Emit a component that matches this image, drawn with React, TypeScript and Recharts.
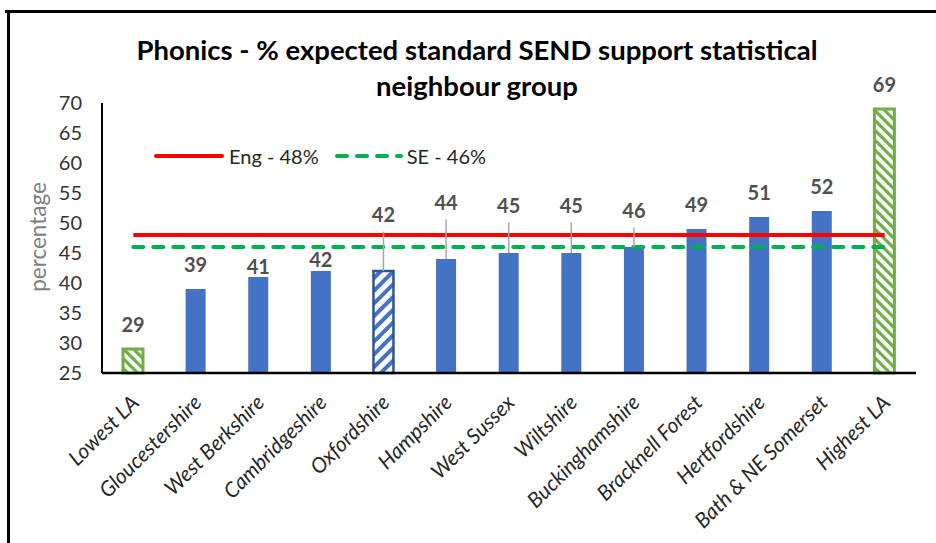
import React from 'react';
import {
  ComposedChart,
  Bar,
  Line,
  Cell,
  XAxis,
  YAxis,
  LabelList,
} from 'recharts';

const CATEGORIES = [
  'Lowest LA',
  'Gloucestershire',
  'West Berkshire',
  'Cambridgeshire',
  'Oxfordshire',
  'Hampshire',
  'West Sussex',
  'Wiltshire',
  'Buckinghamshire',
  'Bracknell Forest',
  'Hertfordshire',
  'Bath & NE Somerset',
  'Highest LA',
];
const VALUES = [29, 39, 41, 42, 42, 44, 45, 45, 46, 49, 51, 52, 69];
const ENGLAND = 48;
const SOUTH_EAST = 46;
const Y_TICKS = [25, 30, 35, 40, 45, 50, 55, 60, 65, 70];

// which bars get the hatched fills
const GREEN_HATCHED = ['Lowest LA', 'Highest LA'];
const BLUE_HATCHED = ['Oxfordshire'];

// labels that were moved by hand in the original (px, + is up); raised ones get a leader line
const LABEL_LIFT: Record<string, number> = {
  'West Berkshire': -14,
  Cambridgeshire: -13,
  Oxfordshire: 32,
  Hampshire: 32,
  'West Sussex': 23,
  Wiltshire: 23,
  Buckinghamshire: 12,
};

const data = CATEGORIES.map((name, i) => ({
  name,
  value: VALUES[i],
  eng: ENGLAND,
  se: SOUTH_EAST,
}));

const FONT = 'Lato, "Open Sans", sans-serif';

const renderLabel = (props: any) => {
  const { x, y, width, value, index } = props;
  const cx = Number(x) + Number(width) / 2;
  const lift = LABEL_LIFT[CATEGORIES[index]] ?? 0;
  const base = Number(y) - 17 - lift;
  return (
    <g>
      {lift > 0 && (
        <line x1={cx} x2={cx} y1={base + 9.5} y2={y} stroke="#a6a6a6" strokeWidth={1.5} />
      )}
      <text x={cx} y={base} textAnchor="middle" fontFamily={FONT} fontWeight={700} fontSize={20} fill="#505050">
        {value}
      </text>
    </g>
  );
};

const CategoryTick = (props: any) => {
  const { x, y, payload } = props;
  const tx = x + 7;
  const ty = y + 31;
  return (
    <text
      x={tx}
      y={ty}
      transform={`rotate(-45 ${tx} ${ty})`}
      textAnchor="end"
      fontFamily={FONT}
      fontStyle="italic"
      fontSize={21}
      fill="#262626"
    >
      {payload.value}
    </text>
  );
};

export default function App() {
  return (
    <div style={{ position: 'absolute', left: 0, top: 0, width: 936, height: 543, background: '#fff', overflow: 'hidden' }}>
      {/* frame edges */}
      <div style={{ position: 'absolute', left: 5, top: 10, width: 931, height: 0, borderTop: '3px solid #000' }} />
      <div style={{ position: 'absolute', left: 7, top: 10, width: 0, height: 533, borderLeft: '3px solid #000' }} />

      <div
        style={{
          position: 'absolute',
          left: 27,
          width: 900,
          top: 32,
          textAlign: 'center',
          fontFamily: FONT,
          fontWeight: 700,
          fontSize: 27.5,
          lineHeight: '36px',
          color: '#000',
        }}
      >
        Phonics - % expected standard SEND support statistical
        <br />
        neighbour group
      </div>

      {/* legend */}
      <div style={{ position: 'absolute', left: 154, top: 144, display: 'flex', alignItems: 'center', fontFamily: FONT, fontSize: 20, color: '#262626' }}>
        <svg width={70} height={8}>
          <line x1={2} x2={68} y1={4} y2={4} stroke="#ff0000" strokeWidth={4} strokeLinecap="round" />
        </svg>
        <span style={{ marginLeft: 5, marginRight: 16 }}>Eng - 48%</span>
        <svg width={68} height={8}>
          <line x1={2} x2={66} y1={4} y2={4} stroke="#00b050" strokeWidth={4} strokeLinecap="round" strokeDasharray="10 10" />
        </svg>
        <span style={{ marginLeft: 4 }}>SE - 46%</span>
      </div>

      <ComposedChart
        width={936}
        height={543}
        data={data}
        margin={{ top: 103, right: 20, bottom: 0, left: 0 }}
        style={{ position: 'absolute', left: 0, top: 0 }}
      >
        <defs>
          <pattern id="greenHatch" patternUnits="userSpaceOnUse" width={7} height={7} patternTransform="rotate(-45)">
            <rect x={0} y={0} width={7} height={7} fill="#ffffff" />
            <rect x={0} y={0} width={3.2} height={7} fill="#70ad47" />
          </pattern>
          <pattern id="blueHatch" patternUnits="userSpaceOnUse" width={9} height={9} patternTransform="rotate(45)">
            <rect x={0} y={0} width={9} height={9} fill="#ffffff" />
            <rect x={0} y={0} width={4} height={9} fill="#4472c4" />
          </pattern>
        </defs>
        <XAxis
          dataKey="name"
          interval={0}
          height={170}
          tickSize={0}
          tickMargin={0}
          tickLine={false}
          axisLine={{ stroke: '#000', strokeWidth: 2.5 }}
          tick={<CategoryTick />}
        />
        <YAxis
          domain={[25, 70]}
          ticks={Y_TICKS}
          width={102}
          tickSize={0}
          tickMargin={20}
          tickLine={false}
          axisLine={{ stroke: '#000', strokeWidth: 2 }}
          tick={{ fontFamily: FONT, fontSize: 20, fill: '#333' }}
          label={{
            content: () => (
              <text x={46} y={237} transform="rotate(-90 46 237)" textAnchor="middle" fontFamily={FONT} fontSize={22.5} fill="#7f7f7f">
                percentage
              </text>
            ),
          }}
        />
        <Bar dataKey="value" barSize={20} isAnimationActive={false}>
          {data.map((d, i) => {
            if (GREEN_HATCHED.includes(d.name)) {
              return <Cell key={i} fill="url(#greenHatch)" stroke="#70ad47" strokeWidth={3} />;
            }
            if (BLUE_HATCHED.includes(d.name)) {
              return <Cell key={i} fill="url(#blueHatch)" stroke="#2f5597" strokeWidth={2.5} />;
            }
            return <Cell key={i} fill="#4472c4" />;
          })}
          <LabelList dataKey="value" content={renderLabel} />
        </Bar>
        <Line
          dataKey="se"
          stroke="#00b050"
          strokeWidth={4}
          strokeDasharray="10 10"
          strokeLinecap="round"
          dot={false}
          activeDot={false}
          isAnimationActive={false}
        />
        <Line
          dataKey="eng"
          stroke="#ff0000"
          strokeWidth={4}
          dot={false}
          activeDot={false}
          isAnimationActive={false}
        />
      </ComposedChart>
    </div>
  );
}
